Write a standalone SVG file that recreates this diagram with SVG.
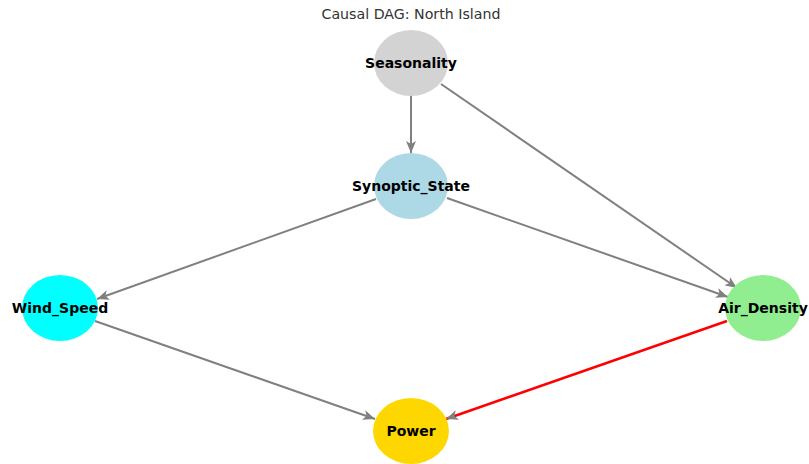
<svg xmlns="http://www.w3.org/2000/svg" width="809" height="464" viewBox="0 0 809 464">
<style>
.lbl{font-family:"DejaVu Sans",sans-serif;font-size:14px;font-weight:bold;fill:#000;text-anchor:middle;dominant-baseline:central}
.title{font-family:"DejaVu Sans",sans-serif;font-size:14.2px;fill:#333;text-anchor:middle}
.e{stroke:#808080;stroke-width:2;fill:none}
.r{stroke:#ff0000;stroke-width:2.5;fill:none}
</style>
<defs>
<marker id="ah" viewBox="0 0 12 10" refX="12" refY="5" markerWidth="12" markerHeight="10" markerUnits="userSpaceOnUse" orient="auto">
<path d="M0,0 L12,5 L0,10 L3,5 Z" fill="#808080"/>
</marker>
</defs>
<rect width="809" height="464" fill="#fff"/>
<text class="title" x="411" y="19">Causal DAG: North Island</text>
<g id="connectors">
<line class="e" x1="411" y1="96" x2="411" y2="153" marker-end="url(#ah)"/>
<line class="e" x1="441" y1="84" x2="737" y2="288" marker-end="url(#ah)"/>
<line class="e" x1="376" y1="199" x2="97" y2="299" marker-end="url(#ah)"/>
<line class="e" x1="447" y1="198" x2="728" y2="297" marker-end="url(#ah)"/>
<line class="e" x1="95" y1="321" x2="375" y2="419" marker-end="url(#ah)"/>
<line class="r" x1="727" y1="321" x2="446" y2="419" marker-end="url(#ah)"/>
</g>
<g id="Seasonality"><ellipse cx="411" cy="63" rx="37" ry="33" fill="#d3d3d3"/><text class="lbl" x="411" y="63">Seasonality</text></g>
<g id="Synoptic_State"><ellipse cx="411" cy="186" rx="37" ry="33" fill="#add8e6"/><text class="lbl" x="411" y="186">Synoptic_State</text></g>
<g id="Wind_Speed"><ellipse cx="60" cy="308" rx="38" ry="33" fill="#00ffff"/><text class="lbl" x="60" y="308">Wind_Speed</text></g>
<g id="Air_Density"><ellipse cx="763" cy="308" rx="38" ry="33" fill="#90ee90"/><text class="lbl" x="763" y="308">Air_Density</text></g>
<g id="Power"><ellipse cx="411" cy="431" rx="38" ry="33" fill="#ffd700"/><text class="lbl" x="411" y="431">Power</text></g>
</svg>
